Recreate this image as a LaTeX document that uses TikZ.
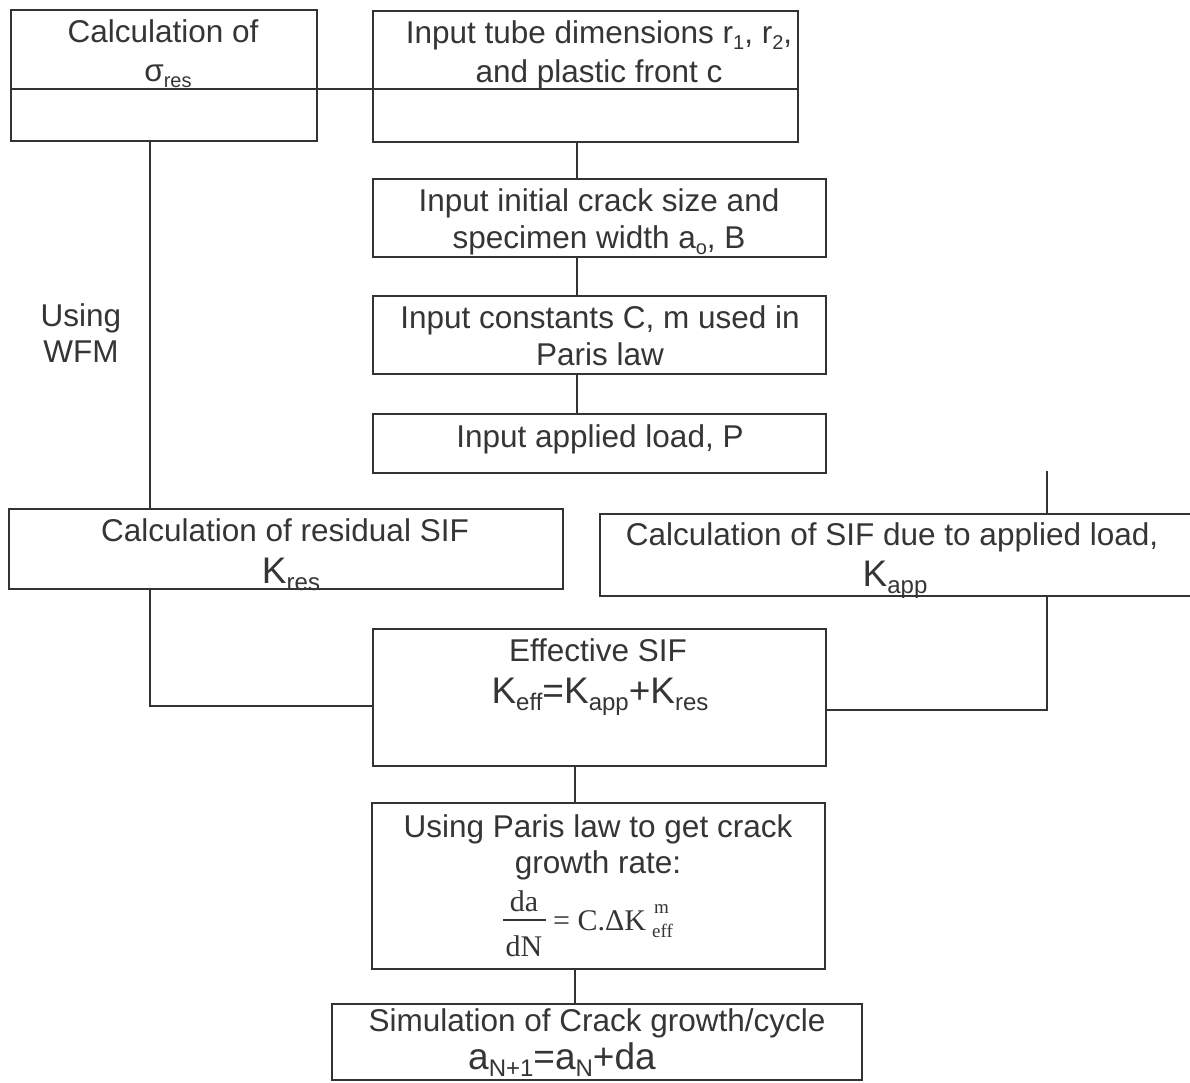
\documentclass[tikz,border=0pt]{standalone}
\usepackage{fontspec}
\setmainfont{Liberation Sans}
\newfontfamily\tms{Liberation Serif}
\definecolor{ink}{HTML}{333333}
\definecolor{txt}{HTML}{353535}
\newcommand\sbs[1]{\raisebox{-6pt}{\fontsize{20}{20}\selectfont #1}}
\newcommand\bigK[1]{{\fontsize{37}{37}\selectfont K\raisebox{-7pt}{\fontsize{24}{24}\selectfont #1}}}
\newcommand\bigsub[1]{\raisebox{-7pt}{\fontsize{24}{24}\selectfont #1}}
\begin{document}
\begin{tikzpicture}[x=1pt,y=-1pt,
  box/.style={draw=ink, line width=2pt, inner sep=0pt, anchor=north west},
  lbl/.style={anchor=base, inner sep=0pt, text=txt, font=\fontsize{31.5}{37}\selectfont},
  lblw/.style={anchor=base west, inner sep=0pt, text=txt, font=\fontsize{31.5}{37}\selectfont},
  frm/.style={anchor=base, inner sep=0pt, text=txt, font=\tms\fontsize{30}{30}\selectfont},
  frmw/.style={anchor=base west, inner sep=0pt, text=txt, font=\tms\fontsize{30}{30}\selectfont},
  frms/.style={anchor=base west, inner sep=0pt, text=txt, font=\tms\fontsize{19}{19}\selectfont},
  conn/.style={draw=ink, line width=2pt}]
\useasboundingbox[fill=white] (0,0) rectangle (1190,1082);

% boxes
\node[box, minimum width=306pt, minimum height=131pt] (b1) at (10,9) {};
\node[box, minimum width=425pt, minimum height=131pt] (b2) at (372,10) {};
\node[box, minimum width=453pt, minimum height=78pt] (b3) at (372,178) {};
\node[box, minimum width=453pt, minimum height=78pt] (b4) at (372,295) {};
\node[box, minimum width=453pt, minimum height=59pt] (b5) at (372,413) {};
\node[box, minimum width=554pt, minimum height=80pt] (b6) at (8,508) {};
\node[box, minimum width=596pt, minimum height=82pt] (b7) at (599,513) {};
\node[box, minimum width=453pt, minimum height=137pt] (b8) at (372,628) {};
\node[box, minimum width=453pt, minimum height=166pt] (b9) at (371,802) {};
\node[box, minimum width=530pt, minimum height=76pt] (b10) at (331,1003) {};

% divider through the two top boxes
\draw[conn] (b1.west |- 0,89) -- (b2.east |- 0,89);

% texts
\node[lbl] (t1a) at (163,42) {Calculation of};
\node[lbl] (t1b) at (168,81) {σ\sbs{res}};
\node[lbl] (t2a) at (599,43) {Input tube dimensions r\sbs{1}, r\sbs{2},};
\node[lbl] (t2b) at (599,82) {and plastic front c};
\node[lbl] (t3a) at (599,211) {Input initial crack size and};
\node[lbl] (t3b) at (599,248) {specimen width a\sbs{o}, B};
\node[lbl] (t4a) at (600,328) {Input constants C, m used in};
\node[lbl] (t4b) at (600,365) {Paris law};
\node[lbl] (t5) at (600,447) {Input applied load, P};
\node[lbl] (wa) at (81,326) {Using};
\node[lbl] (wb) at (81,362) {WFM};
\node[lbl] (t6a) at (285,541) {Calculation of residual SIF};
\node[lbl] (t6b) at (291,583) {\bigK{res}};
\node[lbl] (t7a) at (892,545) {Calculation of SIF due to applied load,};
\node[lbl] (t7b) at (895,586) {\bigK{app}};
\node[lbl] (t8a) at (598,661) {Effective SIF};
\node[lbl] (t8b) at (600,703) {\bigK{eff}{\fontsize{37}{37}\selectfont =}\bigK{app}{\fontsize{37}{37}\selectfont +}\bigK{res}};
\node[lbl] (t9a) at (598,837) {Using Paris law to get crack};
\node[lbl] (t9b) at (598,873) {growth rate:};
\node[frm] (fda) at (524,911) {da};
\node[frm] (fdn) at (524,956) {dN};
\draw[ink, line width=1.3pt] (503,920) -- (546,920);
\node[frmw] (fck) at (553,930) {= C.ΔK};
\node[frms] (fm) at (654,913) {m};
\node[frms] (feff) at (652,937) {eff};
\node[lbl] (t10a) at (597,1031) {Simulation of Crack growth/cycle};
\node[lblw] (t10b) at (468,1069) {{\fontsize{37}{37}\selectfont a}\bigsub{N+1}{\fontsize{37}{37}\selectfont =a}\bigsub{N}{\fontsize{37}{37}\selectfont +da}};

% connectors
\coordinate (r0) at (1047,471);
\draw[conn] (b2.south -| 577,0) -- (b3.north -| 577,0);
\draw[conn] (b3.south -| 577,0) -- (b4.north -| 577,0);
\draw[conn] (b4.south -| 577,0) -- (b5.north -| 577,0);
\draw[conn] (b1.south -| 150,0) -- (b6.north -| 150,0);
\draw[conn] (r0) -- (b7.north -| r0);
\draw[conn] (b6.south -| 150,0) |- (b8.west |- 0,706);
\draw[conn] (b7.south -| r0) |- (b8.east |- 0,710);
\draw[conn] (b8.south -| 575,0) -- (b9.north -| 575,0);
\draw[conn] (b9.south -| 575,0) -- (b10.north -| 575,0);
\end{tikzpicture}
\end{document}
